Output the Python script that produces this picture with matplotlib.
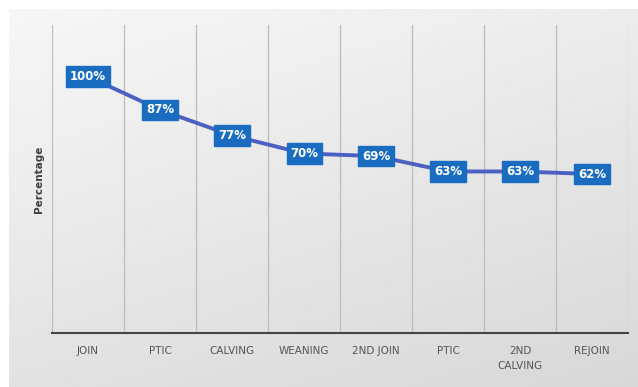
import numpy as np
import matplotlib.pyplot as plt

stages = ['JOIN', 'PTIC', 'CALVING', 'WEANING', '2ND JOIN', 'PTIC', '2ND\nCALVING', 'REJOIN']
pct = [100, 87, 77, 70, 69, 63, 63, 62]

fig = plt.figure(figsize=(6.38, 3.87), dpi=100)
fig.patch.set_facecolor('white')

# grey gradient panel behind the chart
bg = fig.add_axes([0.014, 0.0, 0.986, 0.977], zorder=0)
yy, xx = np.mgrid[0:1:200j, 0:1:300j]
shade = 0.965 - 0.08 * yy - 0.04 * xx
bg.imshow(shade, cmap='gray', vmin=0, vmax=1, aspect='auto', extent=[0, 1, 0, 1], origin='upper')
bg.axis('off')

ax = fig.add_axes([0.0815, 0.139, 0.903, 0.796], zorder=1)
ax.patch.set_alpha(0)
x = np.arange(len(stages))
ax.plot(x, pct, color='#4b60c0', lw=2.8, zorder=2)
for xi, v in zip(x, pct):
    ax.text(xi, v, f'{v}%', ha='center', va='center', color='white', fontsize=8.5,
            fontweight='bold', zorder=3,
            bbox=dict(boxstyle='square,pad=0.3', fc='#1a6cc0', ec='#1a6cc0'))

ax.set_xlim(-0.5, len(stages) - 0.5)
ax.set_ylim(0, 120)
for b in np.arange(-0.5, len(stages), 1.0):
    ax.axvline(b, color='#bcbcbc', lw=0.9, zorder=1)
ax.set_xticks(x)
ax.set_xticklabels(stages, fontsize=7.5, color='#555555', linespacing=1.6)
ax.tick_params(axis='x', length=0, pad=9)
ax.set_yticks([])
for s in ['top', 'left', 'right']:
    ax.spines[s].set_visible(False)
ax.spines['bottom'].set_color('#444444')
ax.spines['bottom'].set_linewidth(1.5)
ax.set_ylabel('Percentage', fontsize=7.5, fontweight='bold', color='#404040', labelpad=6)

fig.savefig('out.png', dpi=100)
